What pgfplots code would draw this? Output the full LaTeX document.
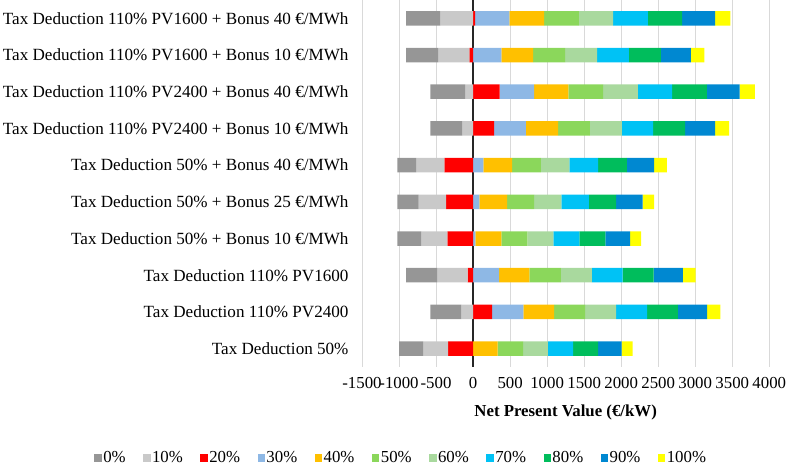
\documentclass[border=0pt]{standalone}
\usepackage{pgfplots}
\pgfplotsset{compat=1.18}
\usepackage{pgfplotstable}
\usepackage{fontspec}
\setmainfont{Liberation Serif}
\definecolor{c0}{HTML}{969696}
\definecolor{c10}{HTML}{C9C9C9}
\definecolor{c20}{HTML}{FF0000}
\definecolor{c30}{HTML}{8EB8E5}
\definecolor{c40}{HTML}{FFC000}
\definecolor{c50}{HTML}{8BD75B}
\definecolor{c60}{HTML}{A9D99E}
\definecolor{c70}{HTML}{00C2F5}
\definecolor{c80}{HTML}{00BD5C}
\definecolor{c90}{HTML}{0088D1}
\definecolor{c100}{HTML}{FFFF00}

% y: row (0 = bottom), s: left end of the bar, then the width of each segment
\pgfplotstableread{
y s p0 p10 p20 p30 p40 p50 p60 p70 p80 p90 p100
0 -1000 324 338 338 0 333 343 333 342 338 316 148
1 -577 419 158 257 423 415 419 418 419 415 396 176
2 -905 419 414 72 351 410 424 419 414 419 396 172
3 -1023 325 351 347 32 351 351 352 351 351 334 148
4 -1023 289 369 365 86 373 365 370 369 369 356 158
5 -1023 253 383 387 140 387 387 388 387 388 369 171
6 -577 433 144 284 428 437 428 432 423 433 405 189
7 -577 469 108 360 464 464 469 468 464 469 441 207
8 -905 432 423 50 383 428 432 433 428 432 405 181
9 -905 464 441 27 464 468 469 464 468 464 446 203
}\npv

\begin{document}
\begin{tikzpicture}
\begin{axis}[
  at={(0pt,0pt)}, anchor=south west,
  scale only axis, width=407.3pt, height=367pt,
  xbar stacked, stack negative=on previous, bar width=14.5pt,
  xmin=-1500, xmax=4000, ymin=-0.5, ymax=9.5,
  xtick={-1500,-1000,...,4000},
  xticklabels={-1500,-1000,-500,0,500,1000,1500,2000,2500,3000,3500,4000},
  ytick={0,...,9},
  yticklabels={
    Tax Deduction 50\%,
    Tax Deduction 110\% PV2400,
    Tax Deduction 110\% PV1600,
    Tax Deduction 50\% + Bonus 10 €/MWh,
    Tax Deduction 50\% + Bonus 25 €/MWh,
    Tax Deduction 50\% + Bonus 40 €/MWh,
    Tax Deduction 110\% PV2400 + Bonus 10 €/MWh,
    Tax Deduction 110\% PV2400 + Bonus 40 €/MWh,
    Tax Deduction 110\% PV1600 + Bonus 10 €/MWh,
    Tax Deduction 110\% PV1600 + Bonus 40 €/MWh},
  xmajorgrids, major grid style={draw=black!15, line width=0.9pt},
  axis line style={draw=none},
  tick style={draw=none},
  ticklabel style={font=\fontsize{16.8}{18}\selectfont},
  yticklabel style={xshift=-10pt, font=\fontsize{17.1}{18}\selectfont},
  xticklabel style={yshift=-6.5pt},
  xlabel={\textbf{Net Present Value (€/kW)}},
  xlabel style={at={(axis description cs:0.5,0)}, anchor=base, yshift=-49.5pt, font=\fontsize{16.8}{18}\selectfont},
  legend columns=11,
  legend style={at={(-0.657,-0.248)}, anchor=west, draw=none, fill=none,
    inner sep=0pt, outer sep=0pt, column sep=0pt,
    /tikz/every even column/.append style={column sep=16pt},
    nodes={inner xsep=1.5pt, inner ysep=0pt},
    font=\fontsize{16.8}{18}\selectfont},
  legend image code/.code={\fill[#1] (0pt,-3.7pt) rectangle (7.4pt,3.7pt);},
]
\addlegendimage{draw=none, fill=c0}
\addlegendimage{draw=none, fill=c10}
\addlegendimage{draw=none, fill=c20}
\addlegendimage{draw=none, fill=c30}
\addlegendimage{draw=none, fill=c40}
\addlegendimage{draw=none, fill=c50}
\addlegendimage{draw=none, fill=c60}
\addlegendimage{draw=none, fill=c70}
\addlegendimage{draw=none, fill=c80}
\addlegendimage{draw=none, fill=c90}
\addlegendimage{draw=none, fill=c100}
\legend{0\%,10\%,20\%,30\%,40\%,50\%,60\%,70\%,80\%,90\%,100\%}
\addplot[draw=none, fill=none] table[x=s, y=y]{\npv};
\addplot[draw=none, fill=c0] table[x=p0, y=y]{\npv};
\addplot[draw=none, fill=c10] table[x=p10, y=y]{\npv};
\addplot[draw=none, fill=c20] table[x=p20, y=y]{\npv};
\addplot[draw=none, fill=c30] table[x=p30, y=y]{\npv};
\addplot[draw=none, fill=c40] table[x=p40, y=y]{\npv};
\addplot[draw=none, fill=c50] table[x=p50, y=y]{\npv};
\addplot[draw=none, fill=c60] table[x=p60, y=y]{\npv};
\addplot[draw=none, fill=c70] table[x=p70, y=y]{\npv};
\addplot[draw=none, fill=c80] table[x=p80, y=y]{\npv};
\addplot[draw=none, fill=c90] table[x=p90, y=y]{\npv};
\addplot[draw=none, fill=c100] table[x=p100, y=y]{\npv};
\draw[black!85, line width=1.3pt] (axis cs:0,-0.5) -- (axis cs:0,9.5);
\end{axis}
\pgfresetboundingbox
\path[use as bounding box] (-362pt,-98pt) rectangle (426pt,367pt);
\end{tikzpicture}
\end{document}
